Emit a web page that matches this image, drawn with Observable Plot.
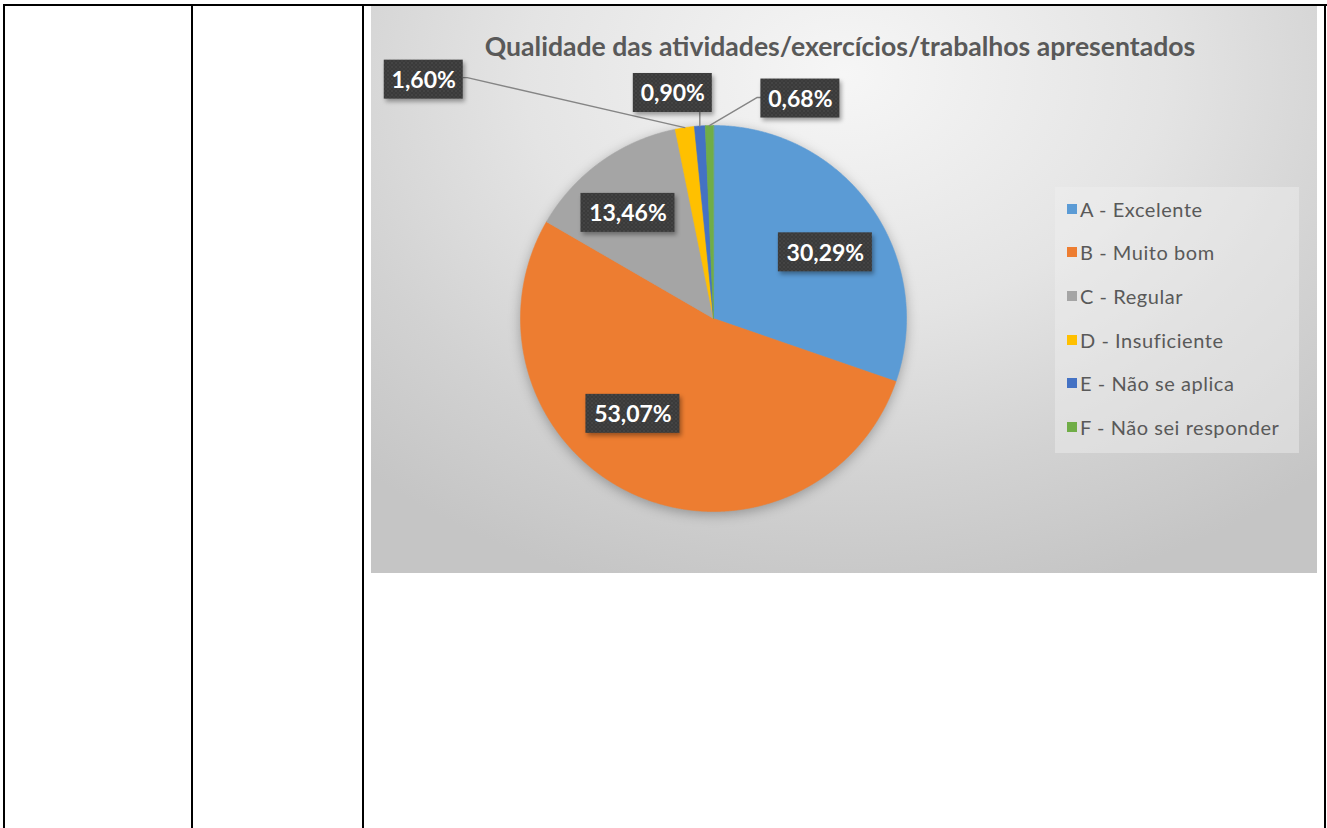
<!DOCTYPE html>
<html>
<head>
<meta charset="utf-8">
<script src="https://cdn.jsdelivr.net/npm/d3@7"></script>
<script src="https://cdn.jsdelivr.net/npm/@observablehq/plot@0.6"></script>
<style>
  html, body { margin: 0; padding: 0; background: #ffffff; }
  #page { position: relative; width: 1327px; height: 828px; overflow: hidden; font-family: "Lato", "Open Sans", sans-serif; }
  .bl { position: absolute; background: #000; }
  #chart {
    position: absolute; left: 371px; top: 6px; width: 946px; height: 567px; overflow: hidden;
    background: radial-gradient(ellipse 75% 95% at 50% 12%, #f6f6f6 0%, #e4e4e4 45%, #d2d2d2 75%, #c5c5c5 100%);
  }
  #title {
    position: absolute; left: -4px; width: 100%; top: 27px; text-align: center;
    font-family: "Lato", sans-serif; font-weight: 700; font-size: 26.6px; color: #595959; line-height: 1; white-space: nowrap;
  }
  #plot { position: absolute; left: 0; top: 0; }
  #legend {
    position: absolute; left: 684px; top: 181px; width: 244px; height: 266px;
    background: rgba(240,240,240,0.45);
  }
  .li { position: absolute; left: 0; height: 22px; display: flex; align-items: center; color: #595959;
        font-family: "Lato", sans-serif; font-size: 20px; letter-spacing: 0.55px; white-space: nowrap; }
  .sw { width: 10px; height: 10px; margin-left: 12px; margin-right: 3px; }
</style>
</head>
<body>
<div id="page">
  <div class="bl" style="left:3px; top:4px; width:1324px; height:2px;"></div>
  <div class="bl" style="left:3px; top:4px; width:2px; height:824px;"></div>
  <div class="bl" style="left:191px; top:4px; width:2px; height:824px;"></div>
  <div class="bl" style="left:362px; top:4px; width:2px; height:824px;"></div>
  <div class="bl" style="left:1324px; top:4px; width:2px; height:824px;"></div>
  <div id="chart">
    <div id="plot"></div>
    <div id="title">Qualidade das atividades/exercícios/trabalhos apresentados</div>
    <div id="legend"></div>
  </div>
</div>
<script>
// ---- data ----
const categories = ["A - Excelente", "B - Muito bom", "C - Regular", "D - Insuficiente", "E - Não se aplica", "F - Não sei responder"];
const values = [30.29, 53.07, 13.46, 1.60, 0.90, 0.68];
const valueLabels = ["30,29%", "53,07%", "13,46%", "1,60%", "0,90%", "0,68%"];
const colors = ["#5B9BD5", "#ED7D31", "#A5A5A5", "#FFC000", "#4472C4", "#70AD47"];

// ---- layout (pixels) ----
const W = 946, H = 567, CX = 342, CY = 312, R = 193;
// label placement: radius fraction along mid-angle + pixel nudge; callouts get leader lines
const placement = [
  {r: 0.68, dx: 5, dy: 10},
  {r: 0.68, dx: -26, dy: -24},
  {r: 0.68, dx: -9, dy: 1},
  {r: 1.0, dx: -261, dy: -48, callout: true},
  {r: 1.0, dx: -27, dy: -33, callout: true},
  {r: 1.0, dx: 91, dy: -27, callout: true}
];

const rows = categories.map((c, i) => ({key: c, value: values[i], label: valueLabels[i]}));
const arcs = d3.pie().value(d => d.value).sort(null)(rows);

// slice outlines in unit-circle coordinates (angle clockwise from 12 o'clock)
const slicePts = [];
for (const a of arcs) {
  slicePts.push({key: a.data.key, x: 0, y: 0});
  const n = Math.max(2, Math.ceil((a.endAngle - a.startAngle) / 0.004));
  for (let k = 0; k <= n; ++k) {
    const t = a.startAngle + (a.endAngle - a.startAngle) * k / n;
    slicePts.push({key: a.data.key, x: Math.sin(t), y: Math.cos(t)});
  }
}

const toX = px => (px - CX) / R;
const toY = py => (CY - py) / R;

const boxes = [], leaders = [];
arcs.forEach((a, i) => {
  const p = placement[i];
  const mid = (a.startAngle + a.endAngle) / 2;
  const ax = CX + R * p.r * Math.sin(mid), ay = CY - R * p.r * Math.cos(mid);
  const cx = ax + p.dx, cy = ay + p.dy;
  const w = 15 * a.data.label.length + 4, h = 39;
  boxes.push({key: a.data.key, label: a.data.label,
    x1: toX(cx - w / 2), x2: toX(cx + w / 2), y1: toY(cy - h / 2), y2: toY(cy + h / 2), x: toX(cx), y: toY(cy + 1)});
  if (p.callout) {
    const l = cx - w / 2, r = cx + w / 2, b = cy + h / 2;
    let pts;
    if (ax >= l + 4 && ax <= r - 4) pts = [[ax, ay], [ax, b]];
    else if (ax > r) pts = [[ax, ay], [r + 4, cy - 2], [r, cy - 2]];
    else pts = [[ax, ay], [l - 4, cy - 1], [l, cy - 1]];
    pts.forEach(([px, py]) => leaders.push({key: a.data.key, x: toX(px), y: toY(py)}));
  }
});

const chart = Plot.plot({
  width: W, height: H, margin: 0,
  style: {background: "transparent", overflow: "visible"},
  x: {domain: [toX(0), toX(W)], axis: null},
  y: {domain: [toY(H), toY(0)], axis: null},
  color: {domain: categories, range: colors},
  marks: [
    Plot.line(slicePts, {x: "x", y: "y", z: "key", fill: "key", stroke: "key", strokeWidth: 0.6, curve: "linear-closed", className: "pie"}),
    Plot.line(leaders, {x: "x", y: "y", z: "key", stroke: "#858585", strokeWidth: 1.4, className: "leader"}),
    Plot.rect(boxes, {x1: "x1", x2: "x2", y1: "y1", y2: "y2", fill: "#3c3c3c", className: "labelbox"}),
    Plot.text(boxes, {x: "x", y: "y", text: "label", fill: "white", fontSize: 23, fontWeight: "bold", fontFamily: "Lato", className: "labeltext"})
  ]
});

// label box texture + shadows
const svgNS = "http://www.w3.org/2000/svg";
const defs = document.createElementNS(svgNS, "defs");
defs.innerHTML = `<pattern id="dots" width="4" height="4" patternUnits="userSpaceOnUse">
  <rect width="4" height="4" fill="#3a3a3a"/><circle cx="1" cy="1" r="0.7" fill="#545454"/><circle cx="3" cy="3" r="0.7" fill="#4a4a4a"/></pattern>`;
chart.insertBefore(defs, chart.firstChild);
const pieG = chart.querySelector('g.pie');
if (pieG) pieG.style.filter = "drop-shadow(0px 3px 6px rgba(0,0,0,0.28))";
const boxG = chart.querySelector('g.labelbox');
if (boxG) {
  boxG.style.filter = "drop-shadow(2px 3px 2px rgba(0,0,0,0.35))";
  boxG.querySelectorAll("rect").forEach(r => r.setAttribute("fill", "url(#dots)"));
}
document.getElementById("plot").appendChild(chart);

// legend
const legend = d3.select("#legend");
categories.forEach((c, i) => {
  const item = legend.append("div").attr("class", "li").style("top", (10.8 + i * 43.6) + "px");
  item.append("div").attr("class", "sw").style("background", colors[i]);
  item.append("span").text(c);
});
</script>
</body>
</html>
